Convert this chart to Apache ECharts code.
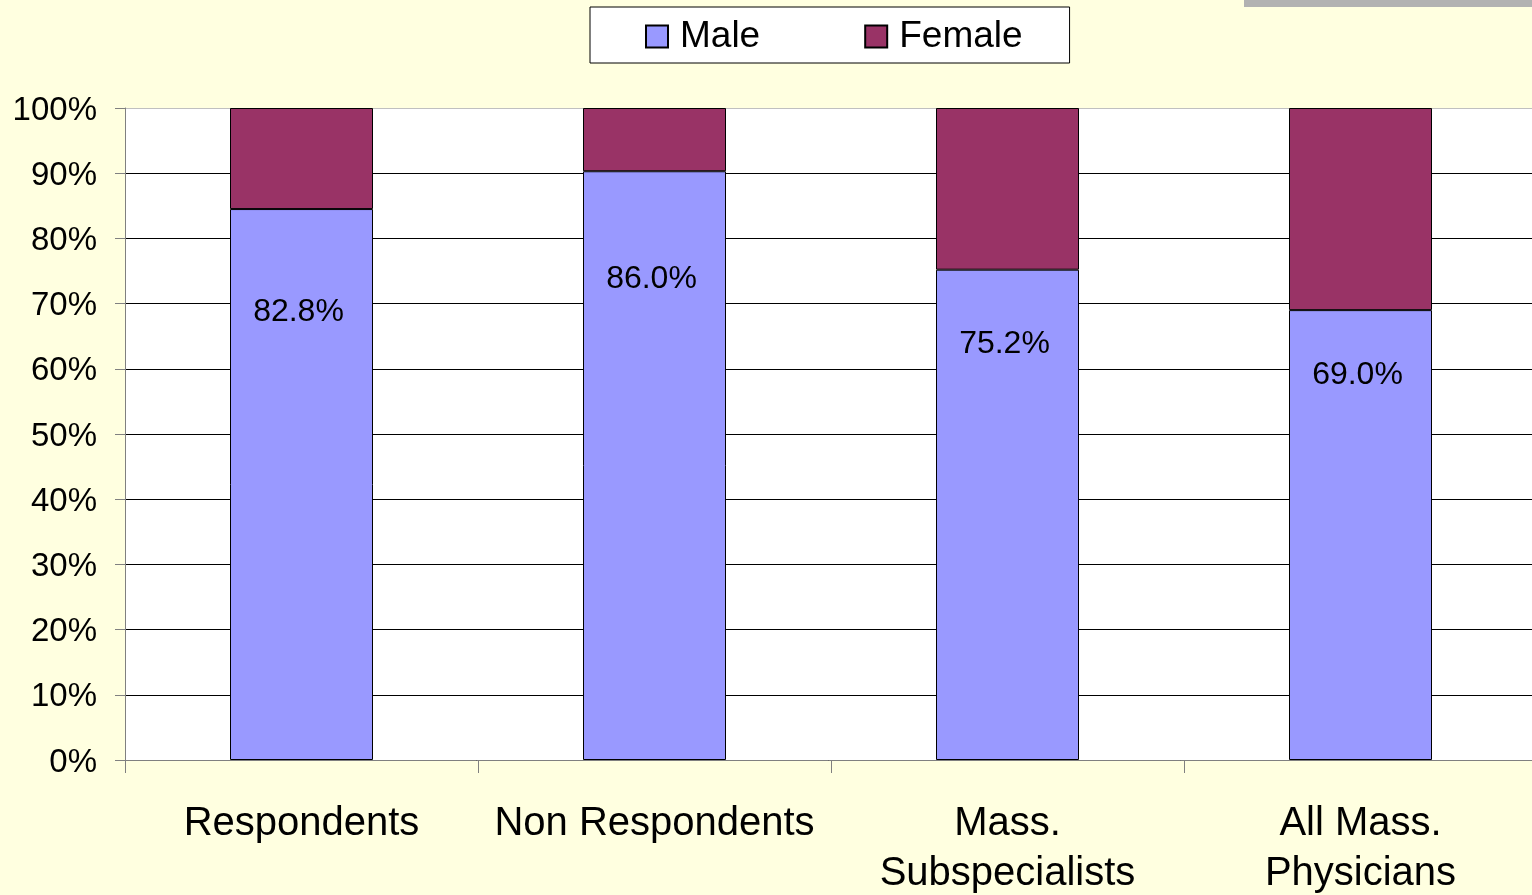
<!DOCTYPE html>
<html>
<head>
<meta charset="utf-8">
<script src="https://cdn.jsdelivr.net/npm/echarts@6/dist/echarts.min.js"></script>
<style>
html,body{margin:0;padding:0;background:#FFFFE0;overflow:hidden;}
#c{width:1532px;height:895px;}
.bar{position:absolute;left:1244px;top:0;width:288px;height:7px;background:#B2B2B2;}
</style>
</head>
<body>
<div id="c"></div>
<div class="bar"></div>
<script>
// ---- data ----
const categories = ['Respondents', 'Non Respondents', 'Mass.\nSubspecialists', 'All Mass.\nPhysicians'];
const maleValues = [84.5, 90.3, 75.2, 69.0];
const femaleValues = [15.5, 9.7, 24.8, 31.0];
const maleLabels = ['82.8%', '86.0%', '75.2%', '69.0%'];
const yTicks = ['0%', '10%', '20%', '30%', '40%', '50%', '60%', '70%', '80%', '90%', '100%'];

// layout of labels inside male bars (px from bar top)
const labelDistances = [88, 93, 59, 50];

const font = '"Liberation Sans", Arial, sans-serif';
const chart = echarts.init(document.getElementById('c'), null, {renderer: 'canvas'});

const splitColors = yTicks.map((t, i) => i === yTicks.length - 1 ? '#C0C0C0' : '#000000');

chart.setOption({
  backgroundColor: '#FFFFE0',
  animation: false,
  legend: {
    left: 590, top: 7,
    padding: [11, 47, 8, 55],
    backgroundColor: '#FFFFFF',
    borderColor: '#000000',
    borderWidth: 1,
    itemWidth: 22, itemHeight: 22,
    itemGap: 104,
    icon: 'rect',
    textStyle: {fontFamily: font, fontSize: 37, color: '#000', padding: [5, 0, 0, 7]},
    data: ['Male', 'Female']
  },
  grid: {
    left: 125, width: 1412, top: 108, height: 652,
    outerBoundsMode: 'none',
    show: true, backgroundColor: '#FFFFFF', borderWidth: 0,
    containLabel: false
  },
  xAxis: {
    type: 'category',
    data: categories,
    axisLine: {lineStyle: {color: '#808080', width: 1}},
    axisTick: {show: true, length: 13, lineStyle: {color: '#808080'}},
    axisLabel: {fontFamily: font, fontSize: 40, color: '#000', lineHeight: 50, margin: 39, interval: 0}
  },
  yAxis: {
    type: 'value',
    min: 0, max: 100, interval: 10,
    axisLine: {show: true, lineStyle: {color: '#808080', width: 1}},
    axisTick: {show: true, length: 10, lineStyle: {color: '#808080'}},
    axisLabel: {
      fontFamily: font, fontSize: 33, color: '#000', margin: 28,
      formatter: (v) => '{a|' + yTicks[Math.round(v / 10)] + '}',
      rich: {a: {fontFamily: font, fontSize: 33, color: '#000', padding: [5, 0, 0, 0]}}
    },
    splitLine: {show: true, lineStyle: {color: splitColors, width: 1}}
  },
  series: [
    {
      name: 'Male', type: 'bar', stack: 'g', barWidth: 143,
      itemStyle: {color: '#9999FF', borderColor: '#000', borderWidth: 1},
      data: maleValues.map((v, i) => ({
        value: v,
        label: {
          show: true, position: 'insideTop', distance: labelDistances[i], offset: [-3, 0],
          formatter: maleLabels[i], fontFamily: font, fontSize: 32, color: '#000', lineHeight: 30
        }
      }))
    },
    {
      name: 'Female', type: 'bar', stack: 'g', barWidth: 143,
      itemStyle: {color: '#993366', borderColor: '#000', borderWidth: 1},
      data: femaleValues
    }
  ]
});
</script>
</body>
</html>
